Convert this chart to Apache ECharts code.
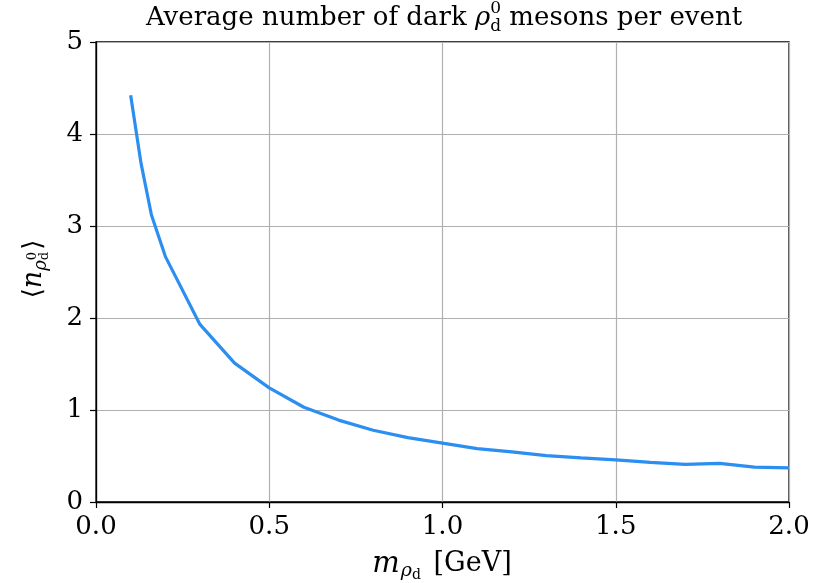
<!DOCTYPE html>
<html><head><meta charset="utf-8">
<script src="https://cdn.jsdelivr.net/npm/echarts@6/dist/echarts.min.js"></script>
<style>html,body{margin:0;padding:0;background:#fff}#c{width:831px;height:583px}</style>
</head><body><div id="c"></div>
<script>
const massGeV = [0.1, 0.13, 0.16, 0.2, 0.3, 0.4, 0.5, 0.6, 0.7, 0.8, 0.9, 1.0, 1.1, 1.2, 1.3, 1.4, 1.5, 1.6, 1.7, 1.8, 1.9, 2.0];
const avgMesons = [4.42, 3.68, 3.12, 2.67, 1.93, 1.51, 1.24, 1.03, 0.89, 0.78, 0.70, 0.64, 0.58, 0.545, 0.505, 0.48, 0.457, 0.43, 0.41, 0.42, 0.38, 0.37];
const xTicks = [0, 0.5, 1.0, 1.5, 2.0];
const yTicks = [0, 1, 2, 3, 4, 5];

const SERIF = "'DejaVu Serif', serif";
const ctx = document.createElement('canvas').getContext('2d');
function w(t, f){ ctx.font = f; return ctx.measureText(t).width; }

function run(parts, cx, cy, rotation){
  let total = 0;
  parts.forEach(p => {
    if (p.stack) p.w = Math.max(...p.stack.map(s => w(s.t, s.f)));
    else p.w = w(p.t, p.f);
    p.w += (p.gap || 0);
    total += p.w;
  });
  let x = -total/2;
  const children = [];
  parts.forEach(p => {
    const items = p.stack ? p.stack : [p];
    items.forEach(s => children.push({type:'text', x: x + (p.pre || 0), y: s.dy || 0,
      style:{text:s.t, font:s.f, fill:'#000', align:'left', verticalAlign:'middle'}}));
    x += p.w;
  });
  return {type:'group', x: cx, y: cy, rotation: rotation || 0, children};
}

const chart = echarts.init(document.getElementById('c'), null, {renderer:'canvas'});
const data = massGeV.map((m,i)=>[m, avgMesons[i]]);

const titleParts = [
  {t:'Average number of dark ', f:'26px '+SERIF},
  {t:'ρ', f:'italic 26px '+SERIF},
  {stack:[{t:'0', f:'17px '+SERIF, dy:-9},{t:'d', f:'17px '+SERIF, dy:9}]},
  {t:' mesons per event', f:'26px '+SERIF}
];
const xNameParts = [
  {t:'m', f:'italic 29px '+SERIF, gap:1},
  {t:'ρ', f:'italic 19px '+SERIF, dy:7},
  {t:'d', f:'14px '+SERIF, dy:11, gap:4},
  {t:' [GeV]', f:'27px '+SERIF}
];
const yNameParts = [
  {t:'⟨', f:'26px '+SERIF},
  {t:'n', f:'italic 27px '+SERIF},
  {t:'ρ', f:'italic 18px '+SERIF, dy:7},
  {stack:[{t:'0', f:'13px '+SERIF, dy:-1},{t:'d', f:'13px '+SERIF, dy:11}], gap:2},
  {t:'⟩', f:'26px '+SERIF}
];

chart.setOption({
  animation:false,
  backgroundColor:'#fff',
  grid:{left:96, right:42, top:42, bottom:81, show:true, borderColor:'#000', borderWidth:1.3, backgroundColor:'transparent'},
  xAxis:{type:'value', min:xTicks[0], max:xTicks[xTicks.length-1], interval:0.5,
    axisLine:{show:true, lineStyle:{color:'#000', width:1.3}},
    axisTick:{show:true, inside:false, length:6, lineStyle:{color:'#000', width:1.2}},
    axisLabel:{fontFamily:SERIF, fontSize:26, color:'#000', margin:12, formatter:v=>v.toFixed(1)},
    splitLine:{show:true, lineStyle:{color:'#b0b0b0', width:1.2}}
  },
  yAxis:{type:'value', min:yTicks[0], max:yTicks[yTicks.length-1], interval:1,
    axisLine:{show:true, lineStyle:{color:'#000', width:1.3}},
    axisTick:{show:true, inside:false, length:6, lineStyle:{color:'#000', width:1.2}},
    axisLabel:{fontFamily:SERIF, fontSize:26, color:'#000', margin:13},
    splitLine:{show:true, lineStyle:{color:'#b0b0b0', width:1.2}}
  },
  series:[{type:'line', data:data, showSymbol:false, symbol:'none',
    lineStyle:{color:'#2b8ef0', width:3.2}, z:5}],
  graphic:[
    run(titleParts, 444, 18, 0),
    run(xNameParts, 442, 564, 0),
    run(yNameParts, 34, 269, Math.PI/2)
  ]
});
</script></body></html>
